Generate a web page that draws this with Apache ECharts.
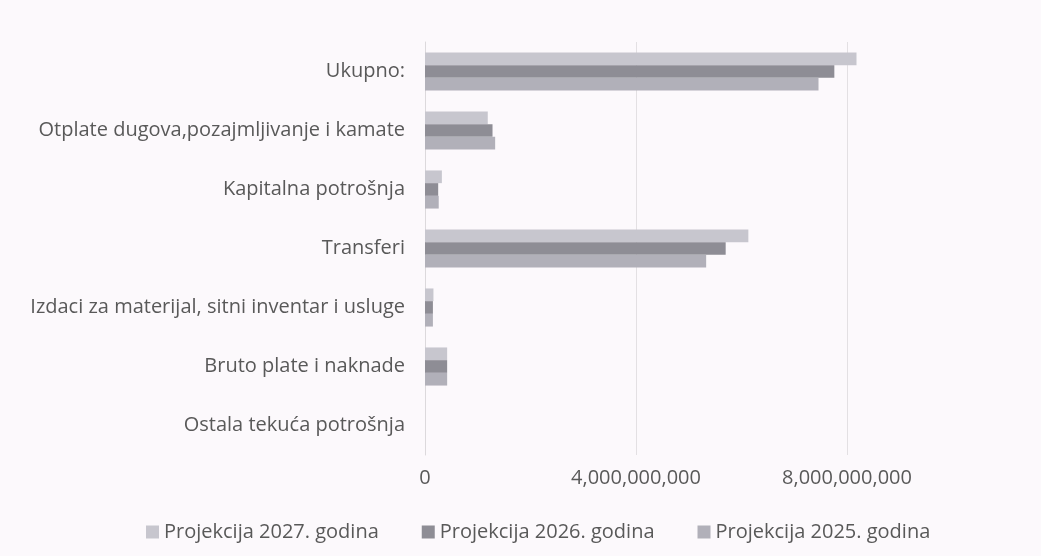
<!DOCTYPE html>
<html>
<head>
<meta charset="utf-8">
<script src="https://cdn.jsdelivr.net/npm/echarts@6/dist/echarts.min.js"></script>
<style>
html,body{margin:0;padding:0;background:#fcf9fc;}
#chart{width:1041px;height:556px;}
</style>
</head>
<body>
<div id="chart"></div>
<script>
// Categories listed bottom-to-top (ECharts category y axis grows upward)
var categories = [
  "Ostala tekuća potrošnja",
  "Bruto plate i naknade",
  "Izdaci za materijal, sitni inventar i usluge",
  "Transferi",
  "Kapitalna potrošnja",
  "Otplate dugova,pozajmljivanje i kamate",
  "Ukupno:"
];
var seriesNames = ["Projekcija 2027. godina", "Projekcija 2026. godina", "Projekcija 2025. godina"];
var values2025 = [0, 420000000, 150000000, 5330000000, 260000000, 1330000000, 7460000000];
var values2026 = [0, 420000000, 150000000, 5700000000, 250000000, 1280000000, 7760000000];
var values2027 = [0, 420000000, 160000000, 6130000000, 320000000, 1190000000, 8180000000];
var xTickMin = 0;
var xTickMax = 12000000000;
var xTickStep = 4000000000;

var chart = echarts.init(document.getElementById('chart'), null, {renderer: 'canvas'});
var font = '"Open Sans", sans-serif';
var textColor = '#595959';
var colors = {
  "Projekcija 2025. godina": '#b1b0b9',
  "Projekcija 2026. godina": '#8e8d95',
  "Projekcija 2027. godina": '#c7c6ce'
};
var dataMap = {
  "Projekcija 2025. godina": values2025,
  "Projekcija 2026. godina": values2026,
  "Projekcija 2027. godina": values2027
};

chart.setOption({
  backgroundColor: '#fcf9fc',
  animation: false,
  textStyle: {fontFamily: font},
  grid: {left: 425, top: 42, width: 633, height: 413, containLabel: false, outerBoundsMode: 'none'},
  legend: {
    data: seriesNames,
    left: 141,
    top: 517,
    itemWidth: 13,
    itemHeight: 13,
    itemGap: 43,
    icon: 'rect',
    textStyle: {fontFamily: font, fontSize: 20, color: textColor}
  },
  xAxis: {
    type: 'value',
    min: xTickMin,
    max: xTickMax,
    interval: xTickStep,
    axisLine: {show: false},
    axisTick: {show: false},
    splitLine: {show: true, lineStyle: {color: '#e3e0e3', width: 1}},
    axisLabel: {
      fontFamily: font, fontSize: 20, color: textColor, margin: 13,
      showMaxLabel: false,
      formatter: function (v) { return v.toLocaleString('en-US'); }
    }
  },
  yAxis: {
    type: 'category',
    data: categories,
    axisLine: {show: true, lineStyle: {color: '#dcd9dc'}},
    axisTick: {show: false},
    axisLabel: {fontFamily: font, fontSize: 20, color: textColor, margin: 20}
  },
  series: seriesNames.map(function (name) {
    return {
      name: name,
      type: 'bar',
      data: dataMap[name],
      barWidth: 12.7,
      barGap: '0%',
      itemStyle: {color: colors[name]}
    };
  })
});
</script>
</body>
</html>
